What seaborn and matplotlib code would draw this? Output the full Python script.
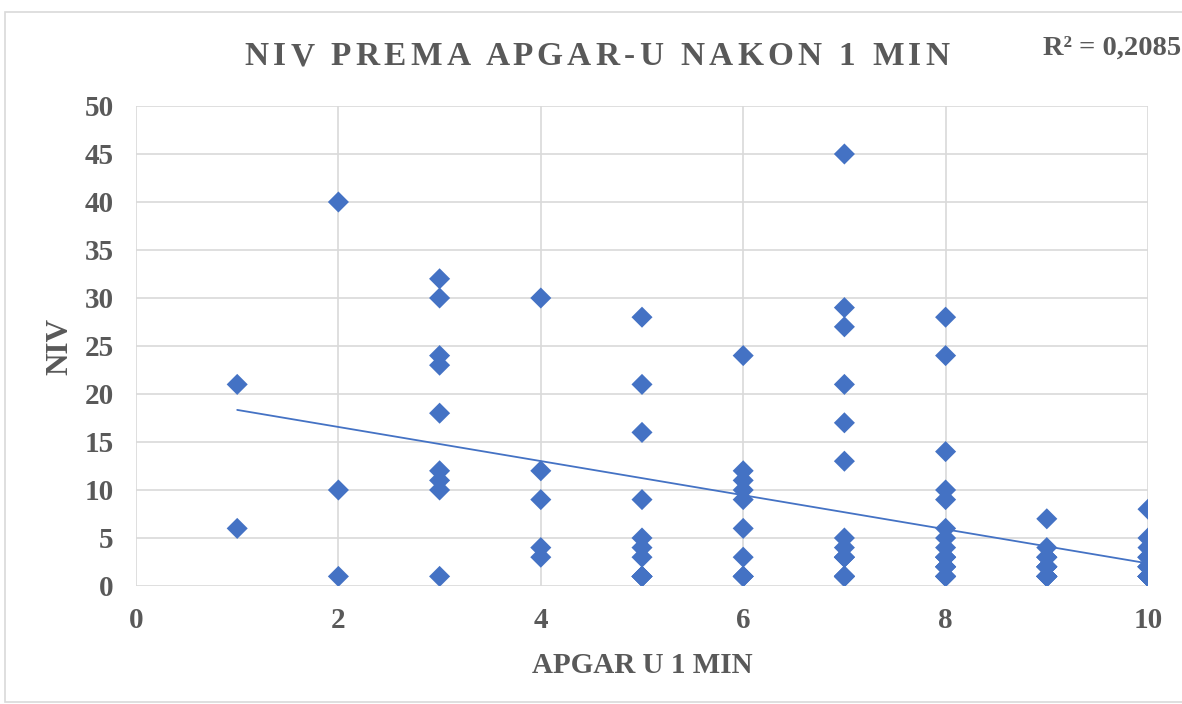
import numpy as np
import pandas as pd
import matplotlib
matplotlib.use("Agg")
import matplotlib.pyplot as plt
import seaborn as sns
from matplotlib.patches import Rectangle

# ---- data (overlapping low values estimated) ----
niv_a1 = [21, 6]
niv_a2 = [40, 10, 1]
niv_a3 = [32, 30, 24, 23, 18, 12, 11, 10, 1]
niv_a4 = [30, 12, 9, 4, 3]
niv_a5 = [28, 21, 16, 9, 5, 4, 3, 1, 1, 1, 1]
niv_a6 = [24, 12, 11, 10, 9, 6, 3, 1, 1, 1]
niv_a7 = [45, 29, 27, 21, 17, 13, 5, 4, 3, 3, 3, 1, 1, 1, 1, 1]
niv_a8 = [28, 24, 14, 10, 9, 6, 5, 4, 3, 3, 3, 2, 2, 2, 1, 1, 1]
niv_a9 = [7, 4, 3, 3, 3, 2, 2, 2, 2, 2, 1, 1, 1, 1, 1, 1, 1]
niv_a10 = [8, 5, 4, 3, 3, 3, 3, 2, 2, 2, 2, 2, 1, 1, 1, 1, 1, 1, 1]
apgar_scores = [1, 2, 3, 4, 5, 6, 7, 8, 9, 10]
x_ticks = [0, 2, 4, 6, 8, 10]
y_ticks = [0, 5, 10, 15, 20, 25, 30, 35, 40, 45, 50]
title_text = "NIV PREMA APGAR-U NAKON 1 MIN"
r2_text = "R² = 0,2085"
x_label = "APGAR U 1 MIN"
y_label = "NIV"

groups = [niv_a1, niv_a2, niv_a3, niv_a4, niv_a5, niv_a6, niv_a7, niv_a8, niv_a9, niv_a10]
apgar = [a for a, g in zip(apgar_scores, groups) for _ in g]
niv = [v for g in groups for v in g]
df = pd.DataFrame({"APGAR": apgar, "NIV": niv})

sns.set_theme(style="white")
plt.rcParams["font.family"] = ["Liberation Serif", "DejaVu Serif"]

W, H = 1182, 704
fig = plt.figure(figsize=(W / 100, H / 100), dpi=100)
ax = fig.add_axes([136 / W, 1 - 586 / H, (1148 - 136) / W, (586 - 106) / H])

blue = "#4472C4"
grid_c = "#D9D9D9"
text_c = "#595959"

sns.regplot(data=df, x="APGAR", y="NIV", scatter=False, ci=None, ax=ax,
            line_kws={"color": blue, "linewidth": 1.3, "zorder": 2})
sns.scatterplot(data=df, x="APGAR", y="NIV", marker="D", s=115, color=blue,
                edgecolor="none", linewidth=0, ax=ax, zorder=3)

ax.set_xlim(0, 10)
ax.set_ylim(0, 50)
ax.set_xticks(x_ticks)
ax.set_yticks(y_ticks)
ax.set_xticklabels([str(v) for v in x_ticks])
ax.set_yticklabels([str(v) for v in y_ticks])
ax.grid(True, color=grid_c, linewidth=1.2)
ax.set_axisbelow(True)
for sp in ax.spines.values():
    sp.set_visible(False)
ax.tick_params(axis="both", length=0, labelsize=21, labelcolor=text_c)
ax.tick_params(axis="y", pad=16)
ax.tick_params(axis="x", pad=15)
for lab in ax.get_xticklabels() + ax.get_yticklabels():
    lab.set_fontweight("bold")
ax.set_xlabel(x_label, fontsize=21, fontweight="bold", color=text_c, labelpad=13)
ax.set_ylabel(y_label, fontsize=22.5, fontweight="bold", color=text_c, labelpad=7)

# chart border
fig.patches.append(Rectangle((5 / W, 2 / H), (W - 4) / W, (H - 14) / H,
                             transform=fig.transFigure, fill=False,
                             edgecolor="#D9D9D9", linewidth=1.2))

# letter-spaced title
renderer = fig.canvas.get_renderer()
tprops = dict(fontsize=24, fontweight="bold", color=text_c)

def text_w(s):
    t = fig.text(0, 0, s + "|", **tprops)
    w = t.get_window_extent(renderer).width
    t.remove()
    t2 = fig.text(0, 0, "|", **tprops)
    w2 = t2.get_window_extent(renderer).width
    t2.remove()
    return w - w2

natural = text_w(title_text)
target_w = 705.0
n = len(title_text)
spacing = (target_w - natural) / (n - 1)
x0 = 597 - target_w / 2
ybase = 1 - 65 / H
for i, ch in enumerate(title_text):
    xp = x0 + text_w(title_text[:i]) + i * spacing
    fig.text(xp / W, ybase, ch, ha="left", va="baseline", **tprops)

fig.text(1043 / W, 1 - 55 / H, r2_text, ha="left", va="baseline",
         fontsize=20.5, fontweight="bold", color=text_c)

fig.savefig("out.png", dpi=100)
